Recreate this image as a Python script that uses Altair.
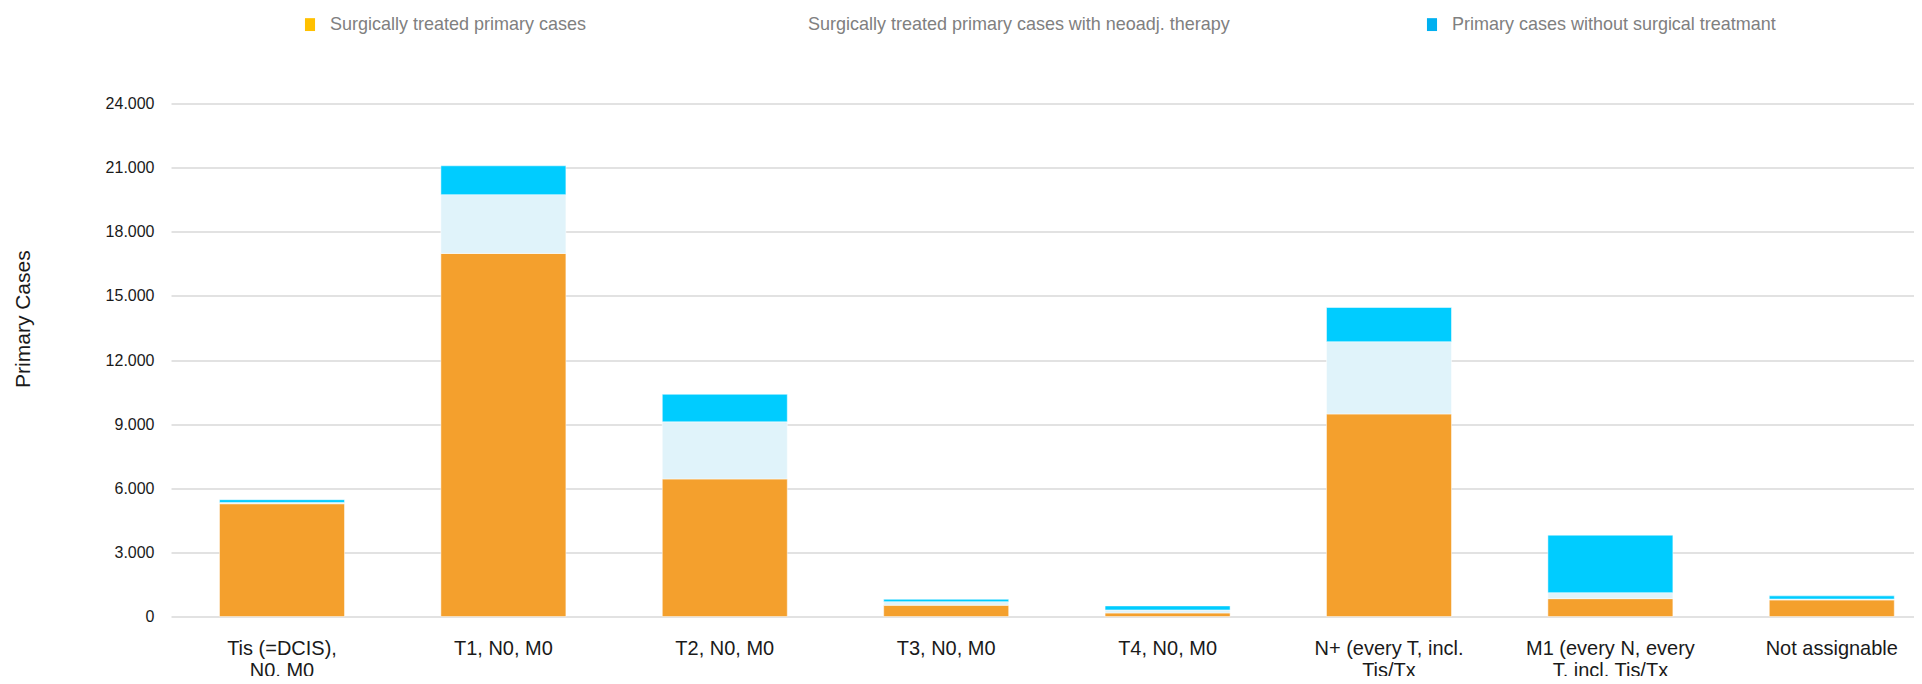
import altair as alt
import pandas as pd

# ---- data ----
categories = [
    "Tis (=DCIS),|N0, M0",
    "T1, N0, M0",
    "T2, N0, M0",
    "T3, N0, M0",
    "T4, N0, M0",
    "N+ (every T, incl.|Tis/Tx",
    "M1 (every N, every|T, incl. Tis/Tx",
    "Not assignable",
]
series_names = [
    "Surgically treated primary cases",
    "Surgically treated primary cases with neoadj. therapy",
    "Primary cases without surgical treatmant",
]
surgical = [5280, 16990, 6440, 530, 170, 9480, 840, 780]
neoadj = [60, 2750, 2670, 170, 140, 3380, 280, 40]
no_surgery = [130, 1350, 1290, 110, 190, 1600, 2690, 150]
y_ticks = [0, 3000, 6000, 9000, 12000, 15000, 18000, 21000, 24000]

bar_colors = ["#F4A02D", "#E0F3FA", "#00CCFF"]
legend_colors = ["#FFC000", "#FFFFFF", "#00B0F0"]

rows = []
for i, cat in enumerate(categories):
    for k, (name, vals) in enumerate(zip(series_names, [surgical, neoadj, no_surgery])):
        rows.append({"category": cat, "series": name, "value": vals[i], "order": k})
df = pd.DataFrame(rows)

FONT = "Liberation Sans"
TEXT = "#1A1A1A"

x = alt.X(
    "category:N",
    sort=categories,
    scale=alt.Scale(paddingInner=0.4354, paddingOuter=0.154, align=0.711),
    axis=alt.Axis(
        title=None,
        labelAngle=0,
        labelExpr="split(datum.label, '|')",
        labelFont=FONT,
        labelFontSize=20,
        labelColor=TEXT,
        labelPadding=22,
        labelLineHeight=22,
        labelBaseline="top",
        labelLimit=400,
        domain=False,
        ticks=False,
        grid=False,
    ),
)

y = alt.Y(
    "value:Q",
    stack="zero",
    scale=alt.Scale(domain=[0, 24000], nice=False, zero=True),
    axis=alt.Axis(
        values=y_ticks,
        labelExpr="replace(format(datum.value, ','), ',', '.')",
        labelFont=FONT,
        labelFontSize=16,
        labelColor=TEXT,
        labelPadding=17,
        ticks=False,
        domain=False,
        grid=True,
        gridColor="#D9D9D9",
        gridWidth=1.5,
        title="Primary Cases",
        titleFont=FONT,
        titleFontSize=21,
        titleFontWeight="normal",
        titleColor=TEXT,
        titleAngle=270,
        titleAlign="center",
        titleBaseline="middle",
        titleX=-148,
        titleY=215,
    ),
)

bars = alt.Chart(df).mark_bar(stroke="#FFFFFF", strokeWidth=0.5).encode(
    x=x,
    y=y,
    color=alt.Color(
        "series:N",
        scale=alt.Scale(domain=series_names, range=bar_colors),
        legend=None,
    ),
    order=alt.Order("order:Q", sort="ascending"),
)

legend_layer = alt.Chart(df).mark_square(opacity=0, size=196).encode(
    x=alt.value(0),
    y=alt.value(0),
    color=alt.Color(
        "series:N",
        scale=alt.Scale(domain=series_names, range=legend_colors),
        legend=alt.Legend(
            title=None,
            orient="none",
            legendX=130,
            legendY=-88,
            direction="horizontal",
            symbolType="M-0.72,-0.92h1.44v1.84h-1.44z",
            symbolSize=196,
            symbolOpacity=1,
            symbolStrokeWidth=0,
            labelFont=FONT,
            labelFontSize=18,
            labelColor="#808080",
            labelLimit=1000,
            labelOffset=11,
            columnPadding=192,
            padding=0,
        ),
    ),
)

chart = (
    alt.layer(bars, legend_layer)
    .resolve_scale(color="independent")
    .properties(
        width=1743,
        height=513,
        autosize=alt.AutoSizeParams(type="none"),
        padding={"left": 163, "top": 95.6, "right": 0, "bottom": 59},
    )
    .configure_view(strokeWidth=0)
)

chart.save("out.html", embed_options={"renderer": "svg", "actions": False})
